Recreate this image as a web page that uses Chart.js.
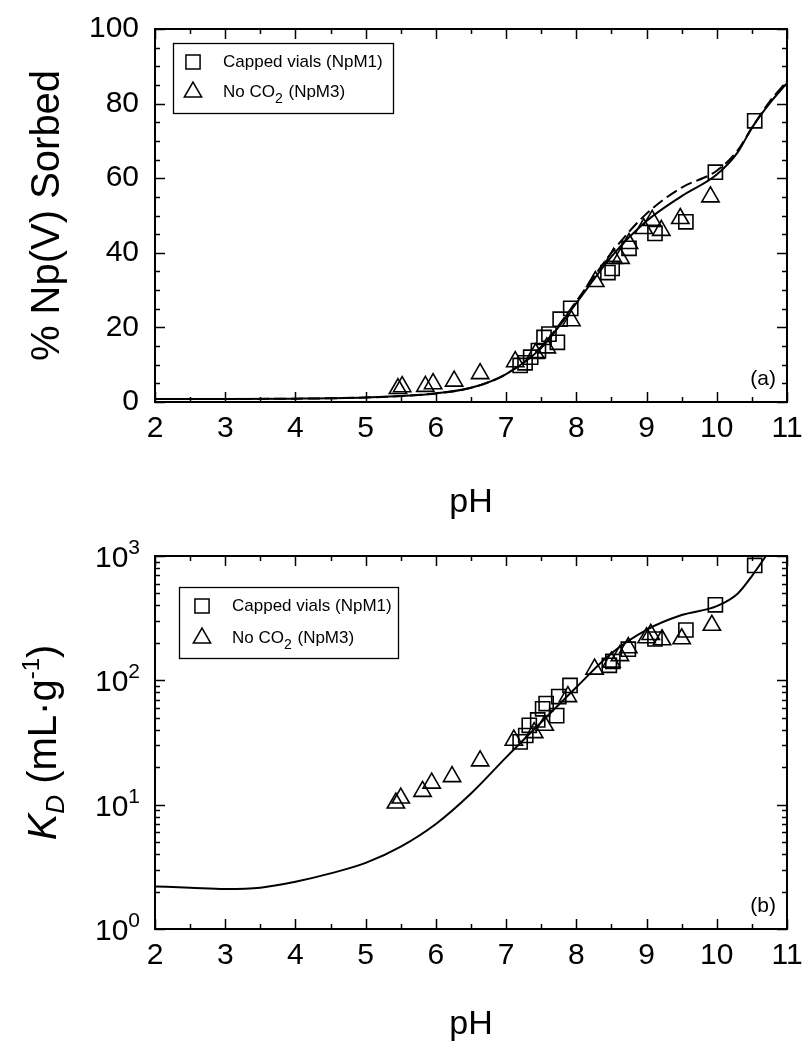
<!DOCTYPE html>
<html>
<head>
<meta charset="utf-8">
<title>Np(V) sorption vs pH</title>
<style>
  html, body { margin: 0; padding: 0; background: #fff; }
  #wrap { position: relative; width: 803px; height: 1045px; }
  canvas { position: absolute; left: 0; }
  #sorbed { top: 0; }
  #kd { top: 527px; }
</style>
<script src="https://cdn.jsdelivr.net/npm/chart.js@4.4.1/dist/chart.umd.min.js"></script>
</head>
<body>
<div id="wrap">
  <canvas id="sorbed" width="803" height="527"></canvas>
  <canvas id="kd" width="803" height="518"></canvas>
</div>
<script>
// ---- panel (a): % sorbed ----
const cappedPH = [7.20, 7.27, 7.35, 7.46, 7.54, 7.61, 7.73, 7.77, 7.92, 8.45, 8.51, 8.75, 9.12, 9.56, 9.98, 10.54];
const cappedSorbed = [9.8, 10.5, 12.0, 13.8, 17.3, 18.2, 16.0, 22.2, 25.1, 34.7, 35.8, 41.2, 45.2, 48.3, 61.6, 75.4];
const noCO2PH = [5.46, 5.52, 5.85, 5.96, 6.26, 6.63, 7.13, 7.42, 7.58, 7.93, 8.27, 8.53, 8.63, 8.75, 8.96, 9.08, 9.21, 9.48, 9.91];
const noCO2Sorbed = [3.6, 4.1, 4.2, 4.9, 5.6, 7.6, 10.8, 13.0, 14.5, 21.8, 32.3, 38.5, 38.5, 42.5, 46.5, 48.7, 46.0, 49.2, 55.0];
// model curves (solid and dashed)
const modelPH = [2, 3, 4, 5, 5.5, 6, 6.5, 7, 7.5, 8, 8.5, 9, 9.5, 10, 10.3, 10.5, 10.75, 11];
const modelSolid = [0.8, 0.8, 0.9, 1.2, 1.6, 2.3, 3.8, 7.5, 14.5, 26.5, 39.0, 48.5, 55.2, 61.0, 67.0, 73.5, 80.0, 85.5];
const modelDashed = [0.8, 0.8, 0.9, 1.2, 1.6, 2.3, 3.8, 7.5, 14.8, 27.0, 40.0, 50.5, 57.5, 62.0, 67.5, 73.5, 80.5, 86.0];

// ---- panel (b): K_D in mL/g ----
const cappedPHb = [7.20, 7.28, 7.33, 7.45, 7.52, 7.57, 7.72, 7.75, 7.91, 8.47, 8.52, 8.74, 9.12, 9.56, 9.98, 10.54];
const cappedKD = [32, 36, 43.5, 48, 59, 65, 52, 74, 91, 132, 142, 178, 215, 254, 405, 840];
const noCO2PHb = [5.43, 5.50, 5.81, 5.94, 6.23, 6.63, 7.11, 7.40, 7.55, 7.88, 8.26, 8.50, 8.62, 8.74, 9.00, 9.06, 9.22, 9.50, 9.93];
const noCO2KD = [10.3, 11.3, 12.8, 14.9, 16.8, 22.5, 33, 38, 43.5, 74, 123, 140, 158, 183, 220, 234, 212, 216, 277];
const kdModelPH = [2, 2.5, 3, 3.5, 4, 4.5, 5, 5.5, 6, 6.5, 7, 7.5, 8, 8.5, 9, 9.5, 10, 10.3, 10.5, 10.7];
const kdModel = [2.2, 2.15, 2.1, 2.15, 2.4, 2.8, 3.4, 4.6, 7.0, 12.3, 24, 46, 88, 165, 255, 335, 395, 500, 690, 1000];

// tick labels
const phTicks = [2, 3, 4, 5, 6, 7, 8, 9, 10, 11];
const sorbedTicks = [0, 20, 40, 60, 80, 100];
const kdTicks = [1, 10, 100, 1000];

const FONT = "'Liberation Sans', Arial, Helvetica, sans-serif";
const pts = (xs, ys) => xs.map((x, i) => ({ x: x, y: ys[i] }));

// minor tick positions
const phMinor = phTicks.slice(0, -1).map(v => v + 0.5);
const sorbedMinor = [];
for (let v = 5; v < 100; v += 5) if (v % 20) sorbedMinor.push(v);
const kdMinor = [];
[1, 10, 100].forEach(d => { for (let m = 2; m <= 9; m++) kdMinor.push(d * m); });

function marker(ctx, style, x, y, r) {
  ctx.beginPath();
  if (style === 'rect') {
    const s = r * Math.SQRT1_2;
    ctx.rect(x - s, y - s, 2 * s, 2 * s);
  } else {
    for (let k = 0; k < 3; k++) {
      const a = k * 2 * Math.PI / 3;
      const px = x + Math.sin(a) * r, py = y - Math.cos(a) * r;
      k ? ctx.lineTo(px, py) : ctx.moveTo(px, py);
    }
    ctx.closePath();
  }
  ctx.stroke();
}

// box around plot + inward ticks on all 4 sides + panel tag
const frame = {
  id: 'frame',
  afterDatasetsDraw(chart, args, o) {
    const { ctx, chartArea: a } = chart;
    const x = chart.scales.x, y = chart.scales.y;
    ctx.save();
    ctx.strokeStyle = '#000';
    ctx.lineWidth = 1.5;
    ctx.beginPath();
    const tx = (v, len) => {
      const p = Math.round(x.getPixelForValue(v)) + 0.5;
      ctx.moveTo(p, a.bottom); ctx.lineTo(p, a.bottom - len);
      ctx.moveTo(p, a.top); ctx.lineTo(p, a.top + len);
    };
    const ty = (v, len) => {
      const p = Math.round(y.getPixelForValue(v)) + 0.5;
      ctx.moveTo(a.left, p); ctx.lineTo(a.left + len, p);
      ctx.moveTo(a.right, p); ctx.lineTo(a.right - len, p);
    };
    phTicks.forEach(v => tx(v, 10));
    phMinor.forEach(v => tx(v, 5));
    o.yMajor.forEach(v => ty(v, 10));
    o.yMinor.forEach(v => ty(v, 5));
    ctx.stroke();
    ctx.lineWidth = 2;
    ctx.strokeRect(a.left, a.top, a.right - a.left, a.bottom - a.top);
    ctx.fillStyle = '#000';
    ctx.font = '21px ' + FONT;
    ctx.textAlign = 'right';
    ctx.textBaseline = 'alphabetic';
    ctx.fillText(o.tag, a.right - 11, a.bottom - 17);
    ctx.restore();
  }
};

// boxed legend in the upper-left corner of the plot
const boxLegend = {
  id: 'boxLegend',
  afterDraw(chart, args, o) {
    const { ctx, chartArea: a } = chart;
    const left = a.left + o.dx, top = a.top + o.dy;
    ctx.save();
    ctx.fillStyle = '#fff';
    ctx.fillRect(left, top, o.w, o.h);
    ctx.strokeStyle = '#000';
    ctx.lineWidth = 1.3;
    ctx.strokeRect(left + 0.5, top + 0.5, o.w, o.h);
    const items = chart.data.datasets.filter(d => !d.showLine);
    items.forEach((d, i) => {
      const cy = top + o.row0 + i * o.rowGap;
      ctx.lineWidth = 1.5;
      marker(ctx, d.pointStyle, left + o.markX, cy, d.pointRadius);
      ctx.fillStyle = '#000';
      ctx.textAlign = 'left';
      ctx.textBaseline = 'middle';
      const parts = d.label.split('₂');
      let tx = left + o.textX;
      parts.forEach((p, k) => {
        ctx.font = '17px ' + FONT;
        ctx.fillText(p, tx, cy);
        tx += ctx.measureText(p).width;
        if (k < parts.length - 1) {
          ctx.font = '14px ' + FONT;
          ctx.fillText('2', tx, cy + 7);
          tx += ctx.measureText('2').width + 1;
        }
      });
    });
    ctx.restore();
  }
};

// 10^n labels and K_D title for panel (b)
const kdLabels = {
  id: 'kdLabels',
  afterDraw(chart) {
    const { ctx, chartArea: a } = chart;
    const y = chart.scales.y;
    ctx.save();
    ctx.fillStyle = '#000';
    ctx.textBaseline = 'alphabetic';
    ctx.textAlign = 'right';
    kdTicks.forEach(v => {
      const py = y.getPixelForValue(v);
      const exp = String(Math.round(Math.log10(v)));
      const right = a.left - 15;
      ctx.font = '21px ' + FONT;
      const ew = ctx.measureText(exp).width;
      ctx.fillText(exp, right, py - 2);
      ctx.font = '30px ' + FONT;
      ctx.fillText('10', right - ew, py + 11);
    });
    // rotated axis title
    ctx.translate(56, (a.top + a.bottom) / 2);
    ctx.rotate(-Math.PI / 2);
    const segs = [
      { t: 'K', f: 'italic 40px ' + FONT, dy: 0 },
      { t: 'D', f: 'italic 26px ' + FONT, dy: 8 },
      { t: ' (mL·g', f: '40px ' + FONT, dy: 0 },
      { t: '-1', f: '24px ' + FONT, dy: -17 },
      { t: ')', f: '40px ' + FONT, dy: 0 }
    ];
    let total = 0;
    segs.forEach(s => { ctx.font = s.f; s.w = ctx.measureText(s.t).width; total += s.w; });
    let cx = -total / 2;
    ctx.textAlign = 'left';
    segs.forEach(s => { ctx.font = s.f; ctx.fillText(s.t, cx, s.dy); cx += s.w; });
    ctx.restore();
  }
};

const tickFont = { family: FONT, size: 30 };

function xScale(height, titlePad) {
  return {
    type: 'linear', min: 2, max: 11,
    afterBuildTicks: s => { s.ticks = phTicks.map(v => ({ value: v })); },
    ticks: { font: tickFont, color: '#000', padding: 9, autoSkip: false, maxRotation: 0 },
    grid: { display: false, drawTicks: false },
    border: { display: false },
    title: { display: true, text: 'pH', color: '#000', font: { family: FONT, size: 34, lineHeight: 1.2 }, padding: { top: 0, bottom: titlePad } },
    afterFit: s => { s.height = height; s.paddingLeft = 0; s.paddingRight = 0; }
  };
}

const baseOptions = {
  responsive: false,
  animation: false,
  devicePixelRatio: 1,
  layout: { padding: { top: 29, right: 16, left: 0, bottom: 0 } }
};

function scatterSet(label, style, data) {
  return {
    label: label, data: data, pointStyle: style, pointRadius: 10, pointHoverRadius: 10,
    borderColor: '#000', backgroundColor: 'rgba(0,0,0,0)', borderWidth: 1.6, order: 1
  };
}

function curveSet(data, dash) {
  return {
    label: 'model', data: data, showLine: true, pointRadius: 0, borderColor: '#000',
    borderWidth: 2, borderDash: dash, cubicInterpolationMode: 'monotone', fill: false, order: 2
  };
}

new Chart(document.getElementById('sorbed'), {
  type: 'scatter',
  data: {
    datasets: [
      scatterSet('Capped vials (NpM1)', 'rect', pts(cappedPH, cappedSorbed)),
      scatterSet('No CO₂ (NpM3)', 'triangle', pts(noCO2PH, noCO2Sorbed)),
      curveSet(pts(modelPH, modelSolid), []),
      curveSet(pts(modelPH, modelDashed), [12, 5])
    ]
  },
  options: Object.assign({}, baseOptions, {
    plugins: {
      legend: { display: false },
      tooltip: { enabled: false },
      frame: { tag: '(a)', yMajor: sorbedTicks, yMinor: sorbedMinor },
      boxLegend: { dx: 18, dy: 14, w: 220, h: 70, markX: 20, textX: 50, row0: 19, rowGap: 30 }
    },
    scales: {
      x: xScale(125, 4),
      y: {
        type: 'linear', min: 0, max: 100,
        afterBuildTicks: s => { s.ticks = sorbedTicks.map(v => ({ value: v })); },
        ticks: { font: tickFont, color: '#000', padding: 16 },
        grid: { display: false, drawTicks: false },
        border: { display: false },
        title: { display: true, text: '% Np(V) Sorbed', color: '#000', font: { family: FONT, size: 40, lineHeight: 1.2 }, padding: { top: 24, bottom: 0 } },
        afterFit: s => { s.width = 155; s.paddingTop = 0; s.paddingBottom = 0; }
      }
    }
  }),
  plugins: [frame, boxLegend]
});

new Chart(document.getElementById('kd'), {
  type: 'scatter',
  data: {
    datasets: [
      scatterSet('Capped vials (NpM1)', 'rect', pts(cappedPHb, cappedKD)),
      scatterSet('No CO₂ (NpM3)', 'triangle', pts(noCO2PHb, noCO2KD)),
      curveSet(pts(kdModelPH, kdModel), [])
    ]
  },
  options: Object.assign({}, baseOptions, {
    plugins: {
      legend: { display: false },
      tooltip: { enabled: false },
      frame: { tag: '(b)', yMajor: kdTicks, yMinor: kdMinor },
      boxLegend: { dx: 24, dy: 31, w: 219, h: 71, markX: 23, textX: 53, row0: 19, rowGap: 32 }
    },
    scales: {
      x: xScale(116, 0),
      y: {
        type: 'logarithmic', min: 1, max: 1000,
        afterBuildTicks: s => { s.ticks = kdTicks.map(v => ({ value: v })); },
        ticks: { display: false },
        grid: { display: false, drawTicks: false },
        border: { display: false },
        afterFit: s => { s.width = 155; s.paddingTop = 0; s.paddingBottom = 0; }
      }
    }
  }),
  plugins: [frame, boxLegend, kdLabels]
});
</script>
</body>
</html>
